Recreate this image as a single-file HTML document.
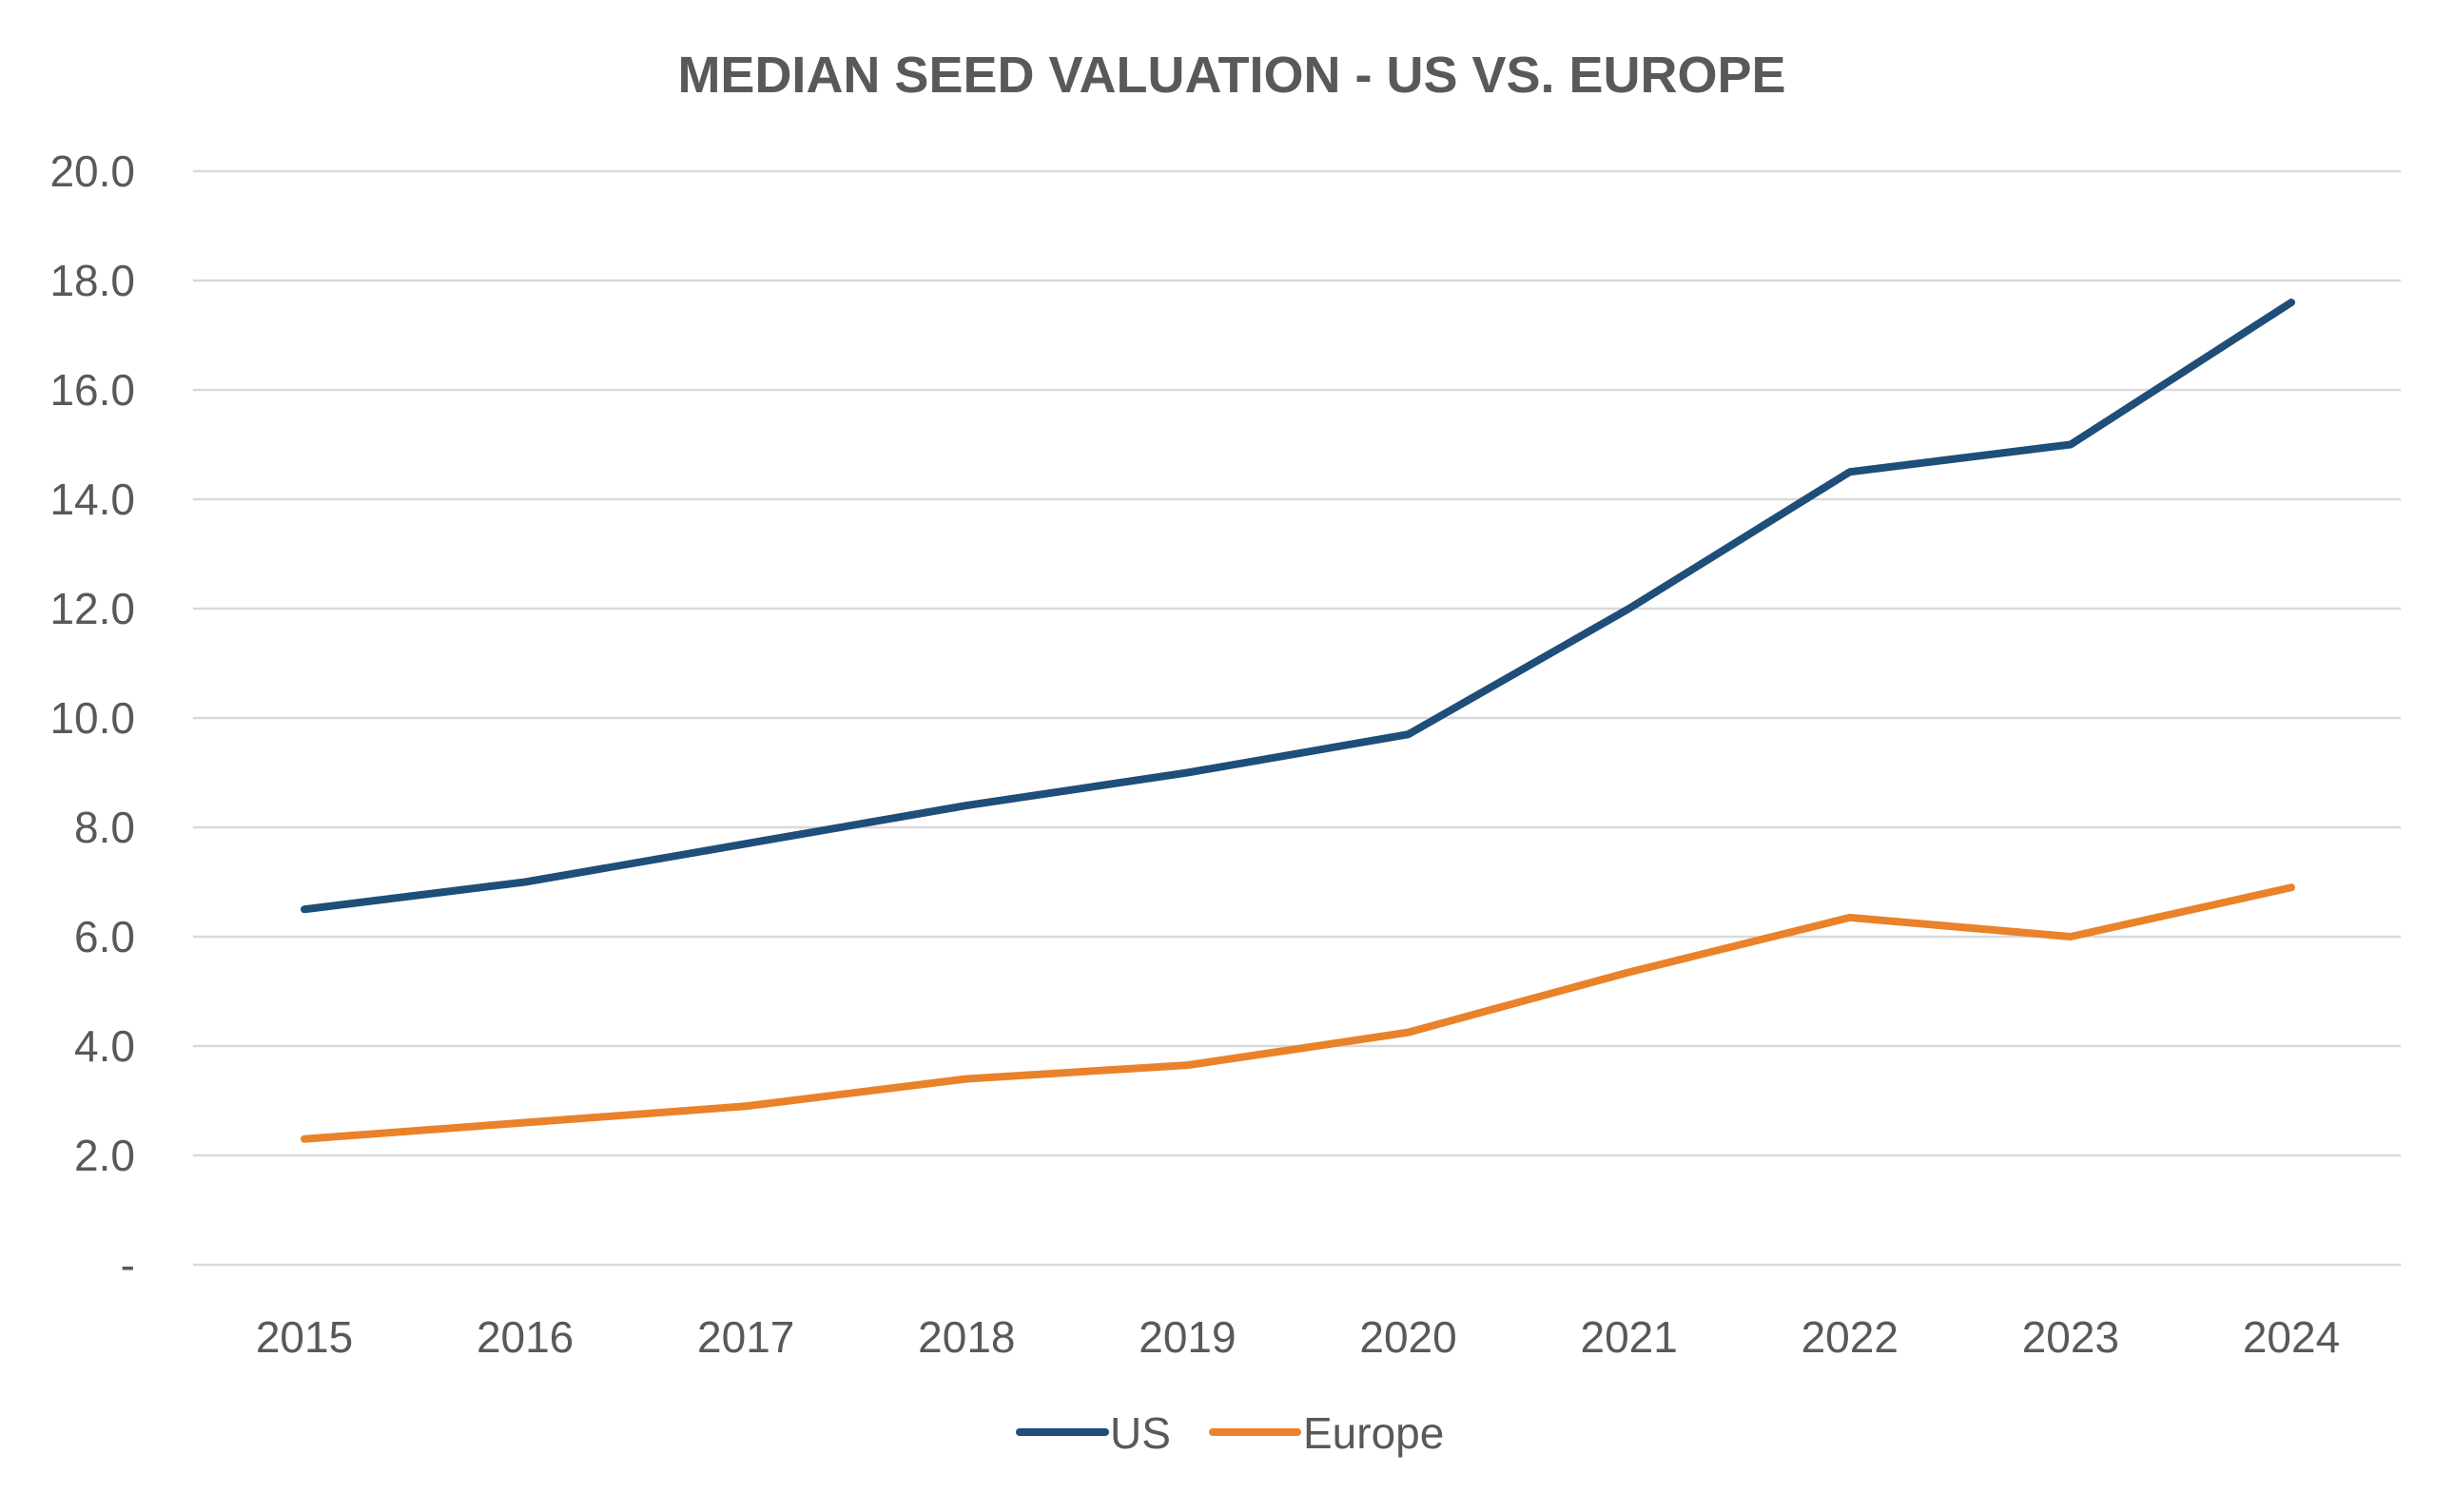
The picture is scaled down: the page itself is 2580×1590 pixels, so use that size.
<!DOCTYPE html>
<html><head><meta charset="utf-8"><style>
html,body{margin:0;padding:0;background:#fff;}
svg{display:block;font-family:"Liberation Sans",Arial,sans-serif;}
</style></head><body>
<svg id="chart" width="2580" height="1590" viewBox="0 0 2580 1590">
<rect width="2580" height="1590" fill="#fff"/>
<text x="1295" y="97" text-anchor="middle" font-size="54" font-weight="bold" fill="#595959">MEDIAN SEED VALUATION - US VS. EUROPE</text>
<g id="grid"></g>
<g id="yticks"></g>
<g id="xticks"></g>
<g id="series"></g>
<g>
<g>
<line x1="1072" y1="1506" x2="1162" y2="1506" stroke="#1f4e79" stroke-width="8" stroke-linecap="round"/>
<text x="1167" y="1523" font-size="46" fill="#595959">US</text></g>
<g>
<line x1="1275" y1="1506" x2="1364" y2="1506" stroke="#e9822a" stroke-width="8" stroke-linecap="round"/>
<text x="1370" y="1523" font-size="46" fill="#595959">Europe</text></g>
</g>
</svg>
<script>
const years = ["2015","2016","2017","2018","2019","2020","2021","2022","2023","2024"];
const usValues = [6.5,7.0,7.7,8.4,9.0,9.7,12.0,14.5,15.0,17.6];
const europeValues = [2.3,2.6,2.9,3.4,3.65,4.25,5.35,6.35,6.0,6.9];
const yTicks = [0,2,4,6,8,10,12,14,16,18,20];
const yTickLabels = ["-","2.0","4.0","6.0","8.0","10.0","12.0","14.0","16.0","18.0","20.0"];

const NS="http://www.w3.org/2000/svg";
const y0=1330, y1=180, xL=203, xR=2524, x0=320, xStep=(2409-320)/9;
const yScale=v=>y0-(v/20)*(y0-y1);
const xScale=i=>x0+i*xStep;
function mk(tag,attrs,parent){const e=document.createElementNS(NS,tag);for(const k in attrs)e.setAttribute(k,attrs[k]);parent.appendChild(e);return e;}
const grid=document.getElementById('grid'),yt=document.getElementById('yticks'),xt=document.getElementById('xticks'),ser=document.getElementById('series');
yTicks.forEach((v,i)=>{
  const l=mk('line',{x1:xL,x2:xR,y1:yScale(v),y2:yScale(v),stroke:'#d9d9d9','stroke-width':2.5},grid);
  
  
  const t=mk('text',{x:142,y:yScale(v)+16,'text-anchor':'end','font-size':46,fill:'#595959'},yt);
  t.textContent=yTickLabels[i];
  
  
});
years.forEach((y,i)=>{
  const t=mk('text',{x:xScale(i),y:1422,'text-anchor':'middle','font-size':46,fill:'#595959'},xt);
  t.textContent=y;
  
  
});
function line(vals,color,name){
  const p=mk('polyline',{points:vals.map((v,i)=>xScale(i)+','+yScale(v)).join(' '),fill:'none',stroke:color,'stroke-width':8,'stroke-linejoin':'round','stroke-linecap':'round'},ser);
  
  
}
line(europeValues,'#e9822a','europe-line');
line(usValues,'#1f4e79','us-line');
</script>
</body></html>
